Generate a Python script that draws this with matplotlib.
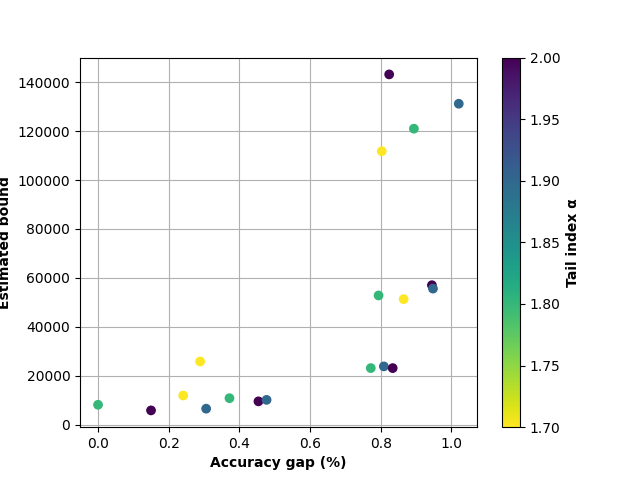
import matplotlib
matplotlib.use('Agg')
import matplotlib.pyplot as plt

# accuracy gap (%), estimated bound, tail index alpha
gap = [0.0, 0.15, 0.241, 0.289, 0.306, 0.372, 0.454, 0.477,
       0.772, 0.809, 0.834, 0.794, 0.865, 0.945, 0.948,
       0.824, 1.021, 0.894, 0.803]
bound = [8100, 5800, 11900, 25800, 6500, 10800, 9500, 10100,
         23100, 23800, 23100, 52800, 51300, 57000, 55600,
         143200, 131200, 121000, 111800]
alpha = [1.8, 2.0, 1.7, 1.7, 1.9, 1.8, 2.0, 1.9,
         1.8, 1.9, 2.0, 1.8, 1.7, 2.0, 1.9,
         2.0, 1.9, 1.8, 1.7]

fig, ax = plt.subplots(figsize=(6.4, 4.8), dpi=100)
sc = ax.scatter(gap, bound, c=alpha, cmap='viridis_r', vmin=1.7, vmax=2.0, zorder=3)
ax.set_xlabel('Accuracy gap (%)', fontweight='bold')
ax.set_ylabel('Estimated bound', fontweight='bold')
ax.grid(True)
cb = fig.colorbar(sc, ax=ax)
cb.set_label('Tail index α', fontweight='bold')

fig.savefig('out.png')
